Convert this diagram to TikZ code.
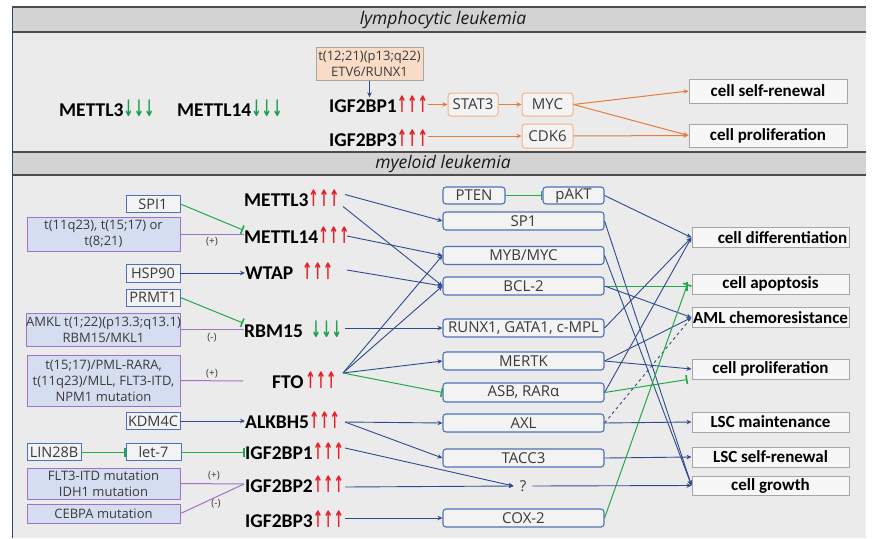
\documentclass[tikz,border=0pt]{standalone}
\usepackage{fontspec}
\setmainfont{Open Sans}
\newfontfamily\labfont{Carlito}
\newfontfamily\dvfont{DejaVu Sans}
\usetikzlibrary{arrows.meta,calc}
\definecolor{secbg}{HTML}{EBEBEB}
\definecolor{hdrbg}{HTML}{D3D3D3}
\definecolor{hdrline}{HTML}{4D4D4D}
\definecolor{navyA}{HTML}{2F4A8C}
\definecolor{boxblue}{HTML}{4E72B8}
\definecolor{boxfill}{HTML}{F3F3F3}
\definecolor{greenA}{HTML}{22A84A}
\definecolor{greenT}{HTML}{1E9E4E}
\definecolor{purpleA}{HTML}{9E72C6}
\definecolor{lblue}{HTML}{D5DDF0}
\definecolor{orangeA}{HTML}{E27D3C}
\definecolor{orangeB}{HTML}{F2B386}
\definecolor{peach}{HTML}{F8DCC8}
\definecolor{rboxline}{HTML}{A6A6A6}
\definecolor{rboxfill}{HTML}{F7F7F7}
\definecolor{txtgray}{HTML}{3A3A3A}
\definecolor{redA}{HTML}{E61E28}
\newcommand\upr{\textcolor{redA}{\scalebox{0.95}[1.75]{\fontsize{13}{13}\dvfont ↑↑↑}}}
\newcommand\dng{\textcolor{greenT}{\scalebox{0.95}[1.75]{\fontsize{13}{13}\dvfont ↓↓↓}}}
\begin{document}
\begin{tikzpicture}[x=1pt,y=-1pt,
  lab/.style={font=\labfont\bfseries\fontsize{19.5}{19.5}\selectfont, inner sep=0pt, anchor=west, text height=13pt, text depth=0pt},
  hdr/.style={font=\itshape\fontsize{17.5}{17.5}\selectfont, text=black!90, inner sep=0pt},
  mbox/.style={draw=boxblue, rounded corners=3pt, fill=boxfill, line width=1.1pt, minimum width=161, minimum height=18, font=\fontsize{15}{15}\selectfont, text=txtgray, inner sep=0pt},
  sbox/.style={draw=boxblue, fill=boxfill, line width=0.9pt, minimum width=54, minimum height=17, font=\fontsize{14.5}{14.5}\selectfont, text=txtgray, inner sep=0pt},
  pbox/.style={draw=purpleA, fill=lblue, line width=1pt, minimum width=153, font=\fontsize{13}{16}\selectfont, text=txtgray, align=center, inner sep=0pt},
  rbox/.style={draw=rboxline, fill=rboxfill, line width=1pt, minimum width=157, minimum height=20, font=\labfont\bfseries\fontsize{17}{17}\selectfont, text=black, inner sep=0pt},
  obox/.style={draw=orangeB, fill=boxfill, rounded corners=3pt, line width=1pt, minimum width=50, minimum height=23, font=\fontsize{15}{15}\selectfont, text=txtgray, inner sep=0pt},
  peachbox/.style={draw=rboxline, fill=peach, line width=1pt, minimum width=107, minimum height=33, font=\fontsize{13}{16}\selectfont, text=txtgray, align=center, inner sep=0pt},
  pm/.style={font=\fontsize{10}{10}\selectfont, text=txtgray, inner sep=0pt},
  nvarr/.style={draw=navyA, line width=0.9pt, -{Stealth[length=5pt,width=4.5pt]}},
  nvdash/.style={draw=navyA, line width=0.9pt, dashed},
  oarr/.style={draw=orangeA, line width=1pt, -{Stealth[length=5pt,width=4.5pt]}},
  inh/.style={draw=greenA, line width=1pt, -{Bar[width=9pt,line width=1.6pt]}},
  pur/.style={draw=purpleA, line width=1pt}
]
\useasboundingbox (0,0) rectangle (872,538);
% sections
\fill[white] (0,0) rectangle (872,538);
\fill[secbg] (12,32) rectangle (866,152);
\fill[secbg] (12,175) rectangle (866,538);
\fill[hdrbg] (12,7) rectangle (866,32);
\fill[hdrbg] (12,152) rectangle (866,175);
\draw[hdrline, line width=1.2pt] (12,7) -- (866,7) (12,32) -- (866,32) (12,152) -- (866,152) (12,175) -- (866,175);
\draw[boxblue!60!black, line width=0.8pt] (12,7) -- (12,538);
\node[hdr] (h1) at (443,20) {lymphocytic leukemia};
\node[hdr] (h2) at (443,164) {myeloid leukemia};

% ---------- lymphocytic ----------
\node[lab] (l3) at (59,110) {METTL3\dng};
\node[lab] (l14) at (177,110) {METTL14\dng};
\node[lab] (igfA) at (329,106) {IGF2BP1\upr};
\node[lab] (igfB) at (329,140) {IGF2BP3\upr};
\node[peachbox] (etv) at (369.5,63.5) {t(12;21)(p13;q22)\\ETV6/RUNX1};
\node[obox] (stat3) at (473,104.5) {STAT3};
\node[obox, minimum width=51] (myc) at (547.5,104.5) {MYC};
\node[obox, minimum width=51, minimum height=24] (cdk6) at (547.5,136) {CDK6};
\node[rbox, minimum width=158, minimum height=24] (sren) at (768,91) {cell self-renewal};
\node[rbox, minimum width=158, minimum height=23] (prolA) at (768,135.5) {cell proliferation};

\draw[nvarr] (etv.south) -- ($(etv.south |- igfA.north)+(0,-2)$);
\draw[oarr] (igfA.east |- stat3.west) -- (stat3.west);
\draw[oarr] (stat3.east) -- (myc.west);
\draw[oarr] (myc.east) -- (sren.west);
\draw[oarr] (myc.east) -- (prolA.west);
\draw[oarr] (igfB.east |- cdk6.west) -- (cdk6.west);
\draw[oarr] (cdk6.east) -- (prolA.west);

% ---------- myeloid: left boxes ----------
\node[sbox] (spi1) at (153,204) {SPI1};
\node[pbox, minimum height=34] (t11) at (103.5,234) {t(11q23), t(15;17) or\\t(8;21)};
\node[sbox, minimum height=18] (hsp90) at (153,273) {HSP90};
\node[sbox] (prmt1) at (153,297.5) {PRMT1};
\node[pbox, minimum height=33] (amkl) at (103.5,329.5) {AMKL t(1;22)(p13.3;q13.1)\\RBM15/MKL1};
\node[pbox, minimum height=51] (pml) at (103.5,380.5) {t(15;17)/PML-RARA,\\t(11q23)/MLL, FLT3-ITD,\\NPM1 mutation};
\node[sbox] (kdm) at (153,421) {KDM4C};
\node[sbox] (lin) at (54,452) {LIN28B};
\node[sbox, minimum width=55] (let7) at (153.5,452) {let-7};
\node[pbox, minimum height=31] (flt) at (103.5,483.5) {FLT3-ITD mutation\\IDH1 mutation};
\node[pbox, minimum height=19] (ceb) at (103.5,513.5) {CEBPA mutation};

% ---------- myeloid: labels ----------
\node[lab] (m3) at (244,199.5) {METTL3\upr};
\node[lab] (m14) at (244,237) {METTL14\upr};
\node[lab] (wtap) at (245,273) {WTAP\hspace{9pt}\upr};
\node[lab] (rbm) at (244,331) {RBM15\hspace{8pt}\dng};
\node[lab] (fto) at (272,382) {FTO\hspace{2pt}\upr};
\node[lab] (alk) at (245,422) {ALKBH5\upr};
\node[lab] (ig1) at (245,453) {IGF2BP1\upr};
\node[lab] (ig2) at (245,486) {IGF2BP2\upr};
\node[lab] (ig3) at (245,521) {IGF2BP3\upr};
\coordinate (ftoin) at (243,381);

% ---------- myeloid: middle boxes ----------
\node[mbox, minimum width=62, minimum height=17] (pten) at (474,195.5) {PTEN};
\node[mbox, minimum width=61, minimum height=17] (pakt) at (573.5,195.5) {pAKT};
\node[mbox] (sp1) at (523.5,221) {SP1};
\node[mbox] (myb) at (523.5,255.5) {MYB/MYC};
\node[mbox] (bcl2) at (523.5,286) {BCL-2};
\node[mbox] (runx) at (523.5,328) {RUNX1, GATA1, c-MPL};
\node[mbox] (mertk) at (523.5,361) {MERTK};
\node[mbox, minimum height=19] (asb) at (523.5,392.5) {ASB, RARα};
\node[mbox] (axl) at (523.5,423) {AXL};
\node[mbox] (tacc3) at (523.5,458) {TACC3};
\node[font=\fontsize{15}{15}\selectfont, text=txtgray, inner xsep=6pt, inner ysep=1pt] (q) at (523,486) {?};
\node[mbox] (cox2) at (523.5,518) {COX-2};

% ---------- myeloid: right boxes ----------
\node[rbox] (diff) at (770.5,237.5) {\hspace*{24pt}cell differentiation};
\node[rbox] (apop) at (770.5,284) {cell apoptosis};
\node[rbox] (aml) at (770.5,317.5) {AML chemoresistance};
\node[rbox] (prol) at (770.5,369) {cell proliferation};
\node[rbox] (lscm) at (770.5,422) {LSC maintenance};
\node[rbox] (lscs) at (770.5,457) {LSC self-renewal};
\node[rbox, minimum height=19] (growth) at (770.5,485.5) {cell growth};

% ---------- left connectors ----------
\draw[inh] (spi1.east) -- ($(m14.west)+(-1,-7)$);
\draw[pur] (t11.east) -- (t11.east -| m14.west);
\node[pm] at (212,242) {(+)};
\draw[nvarr] (hsp90.east) -- (hsp90.east -| wtap.west);
\draw[inh] (prmt1.east) -- ($(rbm.west)+(-1,-8)$);
\draw[pur] (amkl.east) -- (amkl.east -| rbm.west);
\node[pm] at (212,338) {(-)};
\draw[pur] (pml.east) -- (ftoin);
\node[pm] at (212,374) {(+)};
\draw[nvarr] (kdm.east) -- (kdm.east -| alk.west);
\draw[inh] (lin.east) -- (let7.west);
\draw[inh] (let7.east) -- (let7.east -| ig1.west);
\draw[pur] (flt.east) -- ($(ig2.west)+(-1,-2)$);
\draw[pur] (ceb.east) -- ($(ig2.west)+(-1,-2)$);
\node[pm] at (214,476) {(+)};
\node[pm] at (216,504) {(-)};

% ---------- middle connectors ----------
\draw[nvarr] ($(m3.west)+(101,-5)$) -- (sp1.west);
\draw[nvarr] ($(m3.west)+(99,7)$) -- (bcl2.west);
\draw[nvarr] ($(m14.west)+(103,-1)$) -- (myb.west);
\draw[nvarr] ($(wtap.west)+(102,-3)$) -- (bcl2.west);
\draw[nvarr] ($(rbm.west)+(101,-3)$) -- (runx.west);
\draw[nvarr] ($(fto.west)+(71,-9)$) -- (myb.west);
\draw[nvarr] ($(fto.west)+(71,-9)$) -- (bcl2.west);
\draw[nvarr] ($(fto.west)+(71,-9)$) -- (mertk.west);
\draw[inh] ($(fto.west)+(71,-9)$) -- (asb.west);
\draw[nvarr] ($(alk.west)+(100,0)$) -- (axl.west);
\draw[nvarr] ($(alk.west)+(100,0)$) -- (tacc3.west);
\draw[nvarr] ($(ig1.west)+(100,-5)$) -- (q.west);
\draw[nvarr] ($(ig2.west)+(100,1)$) -- (q.west);
\draw[nvarr] ($(ig3.west)+(100,-3)$) -- (cox2.west);
\draw[inh] (pten.east) -- (pakt.west);

% ---------- right connectors ----------
\draw[nvarr] (pakt.east) -- (diff.west);
\draw[nvarr] (sp1.east) -- (growth.west);
\draw[nvarr] (myb.east) -- (growth.west);
\draw[inh] (bcl2.east) -- ($(bcl2.east -| apop.west)+(-4,0)$);
\draw[nvarr] (bcl2.east) -- (aml.west);
\draw[nvarr] (runx.east) -- (diff.west);
\draw[nvarr] (mertk.east) -- (aml.west);
\draw[nvarr] (mertk.east) -- (prol.west);
\draw[nvarr] (asb.east) -- (diff.west);
\draw[inh] (asb.east) -- ($(prol.south west)+(-4,0)$);
\draw[nvarr] (axl.east) -- (lscm.west);
\draw[nvdash] (axl.east) -- (aml.west);
\draw[nvarr] (tacc3.east) -- (lscs.west);
\draw[nvarr] (q.east) -- (growth.west);
\draw[inh] (cox2.east) -- ($(apop.west)+(-4,0)$);
\end{tikzpicture}
\end{document}
